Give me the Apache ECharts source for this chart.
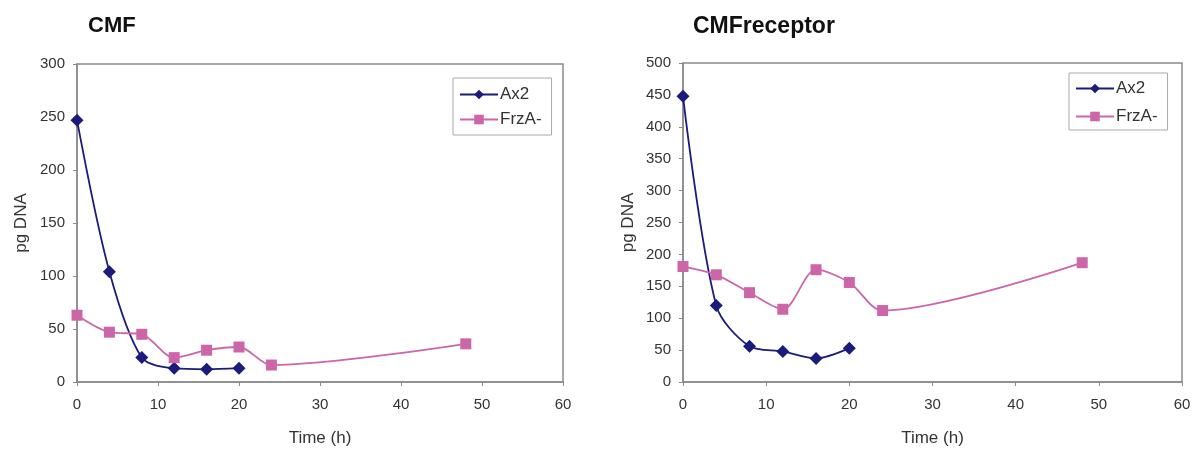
<!DOCTYPE html>
<html>
<head>
<meta charset="utf-8">
<script src="https://cdn.jsdelivr.net/npm/echarts@6/dist/echarts.min.js"></script>
<style>html,body{margin:0;padding:0;background:#fff;}#c{width:1197px;height:452px;}</style>
</head>
<body>
<div id="c"></div>
<script>
const titles = ["CMF", "CMFreceptor"];
const seriesNames = ["Ax2", "FrzA-"];
const timesAx2 = [0, 4, 8, 12, 16, 20];
const timesFrz = [0, 4, 8, 12, 16, 20, 24, 48];
const cmfAx2 = [247, 104, 23, 13, 12, 13];
const cmfFrz = [63, 47, 45, 23, 30, 33, 16, 36];
const recAx2 = [448, 120, 56, 48, 37, 53];
const recFrz = [181, 168, 140, 114, 176, 156, 112, 187];
const xMax = 60, xStep = 10;
const yMaxes = [300, 500];
const yStep = 50;

const pairs = (xs, ys) => xs.map((x, i) => [x, ys[i]]);
const FONT = 'Arial, "Liberation Sans", sans-serif';
const AX2_COLOR = '#1b1b7c';
const FRZ_COLOR = '#cc66a8';
const AXIS_COLOR = '#8a8a8a';

const grids = [
  {left: 77, right: 634, top: 64, bottom: 69},
  {left: 683, right: 15, top: 63, bottom: 70}
];

function xAxis(i) {
  return {
    type: 'value', gridIndex: i, min: 0, max: xMax, interval: xStep,
    name: 'Time (h)', nameLocation: 'middle', nameGap: 48,
    nameTextStyle: {fontFamily: FONT, fontSize: 17, color: '#333'},
    axisLine: {show: true, lineStyle: {color: AXIS_COLOR, width: 1.5}},
    axisTick: {show: true, inside: false, length: 4, lineStyle: {color: AXIS_COLOR}},
    axisLabel: {fontFamily: FONT, fontSize: 15, color: '#333', margin: 15},
    splitLine: {show: false}
  };
}
function yAxis(i) {
  return {
    type: 'value', gridIndex: i, min: 0, max: yMaxes[i], interval: yStep,
    name: 'pg DNA', nameLocation: 'middle', nameGap: i === 0 ? 47 : 46,
    nameTextStyle: {fontFamily: FONT, fontSize: 17, color: '#333'},
    axisLine: {show: true, lineStyle: {color: AXIS_COLOR, width: 1.5}},
    axisTick: {show: true, inside: false, length: 4, lineStyle: {color: AXIS_COLOR}},
    axisLabel: {fontFamily: FONT, fontSize: 15, color: '#333', margin: 12},
    splitLine: {show: false}
  };
}
function lineSeries(name, idx, data, color, symbol, size) {
  return {
    name: name, type: 'line', xAxisIndex: idx, yAxisIndex: idx,
    data: data, smooth: 0.3, symbol: symbol, symbolSize: size,
    lineStyle: {color: color, width: 1.8},
    itemStyle: {color: color},
    emphasis: {disabled: true}, animation: false
  };
}
function legend(left, top, gap, padding) {
  return {
    data: seriesNames.map(n => ({name: n})),
    left: left, top: top, orient: 'vertical', itemGap: gap,
    itemWidth: 38, itemHeight: 12,
    borderColor: '#aaa', borderWidth: 1, padding: padding,
    textStyle: {fontFamily: FONT, fontSize: 17, color: '#333', padding: [0, 0, 0, -3]},
    selectedMode: false
  };
}

const chart = echarts.init(document.getElementById('c'), null, {renderer: 'canvas'});
chart.setOption({
  backgroundColor: '#fff',
  animation: false,
  title: [
    {text: titles[0], left: 83, top: 10, textStyle: {fontFamily: FONT, fontSize: 22, fontWeight: 'bold', color: '#111'}},
    {text: titles[1], left: 688, top: 10, textStyle: {fontFamily: FONT, fontSize: 23, fontWeight: 'bold', color: '#111'}}
  ],
  legend: [
    legend(453, 78, 8, [8, 10, 7, 6]),
    legend(1069, 73, 11, [7, 10, 5, 6])
  ],
  grid: grids.map(g => Object.assign({show: true, borderColor: AXIS_COLOR, borderWidth: 1.5, backgroundColor: '#fff'}, g)),
  xAxis: [xAxis(0), xAxis(1)],
  yAxis: [yAxis(0), yAxis(1)],
  series: [
    lineSeries(seriesNames[0], 0, pairs(timesAx2, cmfAx2), AX2_COLOR, 'diamond', 13),
    lineSeries(seriesNames[1], 0, pairs(timesFrz, cmfFrz), FRZ_COLOR, 'rect', 11),
    lineSeries(seriesNames[0], 1, pairs(timesAx2, recAx2), AX2_COLOR, 'diamond', 13),
    lineSeries(seriesNames[1], 1, pairs(timesFrz, recFrz), FRZ_COLOR, 'rect', 11)
  ]
});
</script>
</body>
</html>
